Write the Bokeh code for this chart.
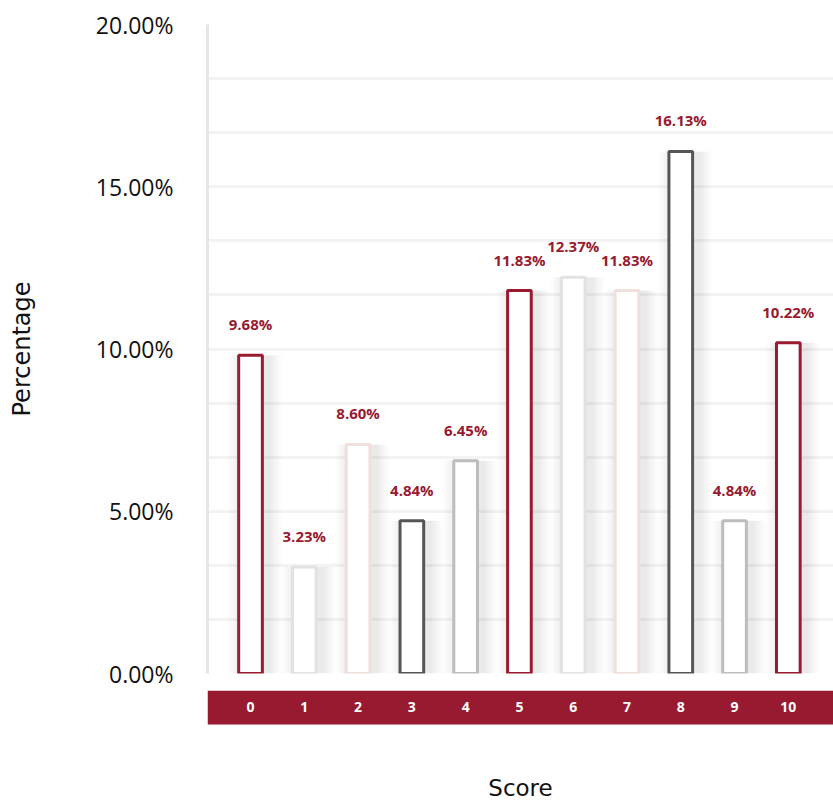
from bokeh.plotting import figure
from bokeh.layouts import column
from bokeh.models import (ColumnDataSource, Range1d, SingleIntervalTicker, FixedTicker,
                          PrintfTickFormatter, LinearAxis, BoxAnnotation)
from bokeh.transform import dodge
from bokeh.core.properties import value
from bokeh.embed import file_html
from bokeh.resources import INLINE

scores = [0, 1, 2, 3, 4, 5, 6, 7, 8, 9, 10]
bar_heights = [9.81, 3.28, 7.06, 4.71, 6.56, 11.80, 12.21, 11.80, 16.09, 4.71, 10.19]
bar_labels = ["9.68%", "3.23%", "8.60%", "4.84%", "6.45%", "11.83%", "12.37%",
              "11.83%", "16.13%", "4.84%", "10.22%"]
outline_colors = ["#9a1b31", "#e2e2e2", "#f0dfda", "#555555", "#bdbdbd", "#9a1b31",
                  "#e2e2e2", "#f0dfda", "#555555", "#bdbdbd", "#9a1b31"]

RED = "#981a30"
FONT = "Open Sans"
LABEL_FONT = "DejaVu Sans"

src = ColumnDataSource(dict(x=scores, top=bar_heights, label=bar_labels, color=outline_colors))

# ---------------- main chart ----------------
p = figure(width=833, height=690, output_backend="svg", toolbar_location=None,
           x_range=Range1d(-0.8, 10.84), y_range=Range1d(0, 20),
           min_border_left=207, min_border_right=0, min_border_top=24, min_border_bottom=17)
p.outline_line_color = None
p.background_fill_color = "white"
p.border_fill_color = "white"
p.xaxis.visible = False

yax = p.yaxis[0]
yax.ticker = SingleIntervalTicker(interval=5, num_minor_ticks=3)
yax.formatter = PrintfTickFormatter(format="%.2f%%")
yax.axis_line_color = "#e6e6e6"
yax.axis_line_width = 3
yax.major_tick_line_color = None
yax.minor_tick_line_color = None
yax.major_label_standoff = 28
yax.major_label_text_font = FONT
yax.major_label_text_font_size = "23px"
yax.major_label_text_color = "#111111"
yax.axis_label = "Percentage"
yax.axis_label_text_font = LABEL_FONT
yax.axis_label_text_font_size = "24px"
yax.axis_label_text_font_style = "normal"
yax.axis_label_text_color = "#111111"
yax.axis_label_standoff = 57

p.xgrid.grid_line_color = None
p.ygrid.grid_line_color = "#f3f3f3"
p.ygrid.grid_line_width = 3
p.ygrid.minor_grid_line_color = "#f3f3f3"
p.ygrid.minor_grid_line_width = 3

# soft shadows
for w, a in [(1.0, 0.012), (0.9, 0.014), (0.8, 0.016), (0.7, 0.018), (0.6, 0.02)]:
    p.vbar(x=dodge("x", 0.08, range=p.x_range), top="top", bottom=0, width=w, source=src,
           fill_color="black", fill_alpha=a, line_color=None)

p.vbar(x="x", top="top", bottom=0, width=0.44, source=src,
       fill_color="white", line_color="color", line_width=3)

p.text(x="x", y="top", text="label", source=src, y_offset=-31,
       text_align="center", text_baseline="middle", text_color=RED,
       text_font=value(FONT), text_font_size="15px", text_font_style="bold")

# ---------------- red score band + x title ----------------
# frame of this strip is 114 px tall; y measured in pixels, band occupies 0..34
b = figure(width=833, height=114, output_backend="svg", toolbar_location=None,
           x_range=p.x_range, y_range=Range1d(-80, 34),
           min_border_left=207, min_border_right=0, min_border_top=0, min_border_bottom=0)
b.outline_line_color = None
b.background_fill_color = "white"
b.border_fill_color = "white"
b.grid.grid_line_color = None
b.yaxis.visible = False
b.add_layout(BoxAnnotation(bottom=0, top=34, fill_color=RED, fill_alpha=1.0,
                           line_color=None, level="underlay"))

bx = b.xaxis[0]
bx.ticker = FixedTicker(ticks=scores)
bx.fixed_location = 34
bx.axis_line_color = None
bx.major_tick_line_color = None
bx.minor_tick_line_color = None
bx.major_label_standoff = 5
bx.major_label_text_color = "white"
bx.major_label_text_font = FONT
bx.major_label_text_font_size = "14px"
bx.major_label_text_font_style = "bold"

score_axis = LinearAxis(ticker=FixedTicker(ticks=[]), fixed_location=0, axis_line_color=None,
                        major_tick_line_color=None, minor_tick_line_color=None,
                        axis_label="Score", axis_label_text_font=LABEL_FONT,
                        axis_label_text_font_size="23px", axis_label_text_font_style="normal",
                        axis_label_text_color="#111111", axis_label_standoff=50)
b.add_layout(score_axis, "below")

layout = column(p, b, spacing=0)
open("out.html", "w").write(file_html(layout, INLINE))
